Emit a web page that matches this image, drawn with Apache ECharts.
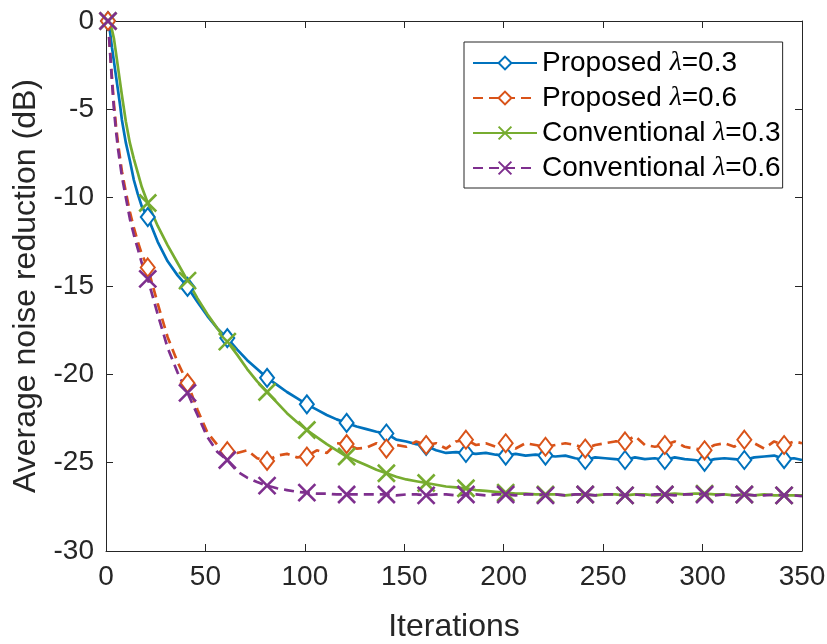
<!DOCTYPE html>
<html>
<head>
<meta charset="utf-8">
<script src="https://cdn.jsdelivr.net/npm/echarts@6/dist/echarts.min.js"></script>
<style>
  html, body { margin: 0; padding: 0; background: #fff; }
  #main { width: 827px; height: 644px; }
</style>
</head>
<body>
<div id="main"></div>
<script>
// iteration index of every sample
var iters = [
  1, 2, 3, 4, 5, 6, 7, 8, 10, 12, 14, 16, 18,
  21, 26, 31, 36, 41, 46, 51, 56, 61, 66, 71, 76, 81, 86, 91, 96,
  101, 106, 111, 116, 121, 126, 131, 136, 141, 146, 151, 156, 161, 166, 171, 176, 181, 186, 191, 196,
  201, 206, 211, 216, 221, 226, 231, 236, 241, 246, 251, 256, 261, 266, 271, 276, 281, 286, 291, 296,
  301, 306, 311, 316, 321, 326, 331, 336, 341, 346,
  350
];
// markers sit every 20 iterations
var markerIters = [1, 21, 41, 61, 81, 101, 121, 141, 161, 181, 201, 221, 241, 261, 281, 301, 321, 341];

var proposed03 = [
  0, -0.6, -1.5, -2.3, -3.1, -3.9, -4.7, -5.6, -6.9, -7.9, -9.0, -9.8, -10.5,
  -11.1, -12.5, -13.6, -14.4, -15.05, -15.9, -16.7, -17.4, -17.95, -18.6, -19.2, -19.7, -20.2, -20.6, -21.0, -21.35,
  -21.7, -22.0, -22.3, -22.55, -22.75, -22.95, -23.1, -23.25, -23.35, -23.7, -23.8, -23.95, -24.05, -24.3, -24.45, -24.4, -24.45, -24.5, -24.45, -24.55,
  -24.6, -24.5, -24.6, -24.55, -24.6, -24.65, -24.6, -24.75, -24.85, -24.7, -24.75, -24.8, -24.85, -24.7, -24.8, -24.75, -24.85, -24.7, -24.8, -24.85,
  -24.95, -24.8, -24.75, -24.8, -24.85, -24.7, -24.65, -24.6, -24.8, -24.75,
  -24.85
];
var proposed06 = [
  0, -1.6, -3.2, -4.7, -5.9, -6.9, -7.7, -8.5, -9.7, -10.8, -11.7, -12.5, -13.2,
  -13.95, -16.0, -17.9, -19.3, -20.5, -22.0, -23.3, -24.0, -24.35, -24.45, -24.3, -24.75, -24.9, -24.6, -24.5, -24.7,
  -24.65, -24.3, -24.45, -23.9, -23.95, -24.2, -24.15, -23.9, -24.2, -24.0, -24.1, -23.8, -24.0, -23.9, -24.2, -23.8, -23.7, -24.0, -23.9, -24.1,
  -23.9, -24.2, -23.9, -24.0, -24.1, -24.0, -23.9, -24.0, -24.2, -24.0, -23.9, -23.8, -23.8, -23.5, -24.0, -24.1, -24.0, -23.8, -24.1, -24.2,
  -24.3, -24.0, -23.9, -24.1, -23.7, -23.9, -24.2, -23.8, -24.0, -23.8,
  -23.9
];
var conventional03 = [
  0, -0.2, -0.5, -1.0, -1.8, -2.6, -3.4, -4.2, -5.7, -6.9, -7.8, -8.6, -9.4,
  -10.3, -11.6, -12.7, -13.7, -14.7, -15.7, -16.6, -17.4, -18.15, -18.9, -19.7, -20.4, -21.0, -21.6, -22.2, -22.7,
  -23.15, -23.55, -23.95, -24.3, -24.65, -24.9, -25.15, -25.4, -25.6, -25.8, -25.95, -26.05, -26.15, -26.25, -26.35, -26.4, -26.45, -26.55, -26.6, -26.65,
  -26.7, -26.75, -26.75, -26.8, -26.8, -26.8, -26.85, -26.8, -26.8, -26.85, -26.8, -26.8, -26.85, -26.8, -26.8, -26.85, -26.8, -26.75, -26.8, -26.75,
  -26.75, -26.8, -26.8, -26.85, -26.8, -26.85, -26.8, -26.85, -26.85, -26.85,
  -26.85
];
var conventional06 = [
  0, -1.7, -3.4, -5.0, -6.2, -7.2, -8.0, -8.8, -10.0, -11.2, -12.1, -12.9, -13.7,
  -14.6, -16.6, -18.5, -19.9, -21.05, -22.3, -23.55, -24.4, -24.85, -25.5, -25.85, -26.1, -26.3, -26.45, -26.55, -26.65,
  -26.7, -26.75, -26.75, -26.8, -26.8, -26.8, -26.8, -26.8, -26.8, -26.85, -26.8, -26.8, -26.85, -26.8, -26.8, -26.85, -26.8, -26.8, -26.85, -26.8,
  -26.8, -26.85, -26.8, -26.8, -26.85, -26.8, -26.85, -26.8, -26.8, -26.85, -26.8, -26.8, -26.85, -26.8, -26.85, -26.8, -26.8, -26.85, -26.8, -26.8,
  -26.8, -26.85, -26.8, -26.85, -26.8, -26.85, -26.85, -26.8, -26.85, -26.85,
  -26.9
];

var seriesNames = ['Proposed λ=0.3', 'Proposed λ=0.6', 'Conventional λ=0.3', 'Conventional λ=0.6'];
var xTicks = [0, 350, 50];
var yTicks = [-30, 0, 5];

var BLUE = '#0072BD', ORANGE = '#D95319', GREEN = '#77AC30', PURPLE = '#7E2F8E';
var AXIS = '#262626';
var CROSS = 'path://M0,0L10,10M0,10L10,0';

function pairs(vals) {
  return iters.map(function (it, i) {
    var d = { value: [it, vals[i]] };
    if (markerIters.indexOf(it) < 0) d.symbol = 'none';
    return d;
  });
}

function makeSeries(name, vals, color, dashed, cross) {
  return {
    name: name,
    type: 'line',
    xAxisIndex: 0,
    yAxisIndex: 0,
    data: pairs(vals),
    showSymbol: true,
    showAllSymbol: true,
    symbol: cross ? CROSS : 'emptyDiamond',
    symbolSize: cross ? 17 : [14, 18],
    lineStyle: { color: color, width: 2.7, type: dashed ? [10, 6] : 'solid' },
    itemStyle: { color: color, borderColor: color, borderWidth: 2.6 },
    emphasis: { disabled: true }
  };
}

var chart = echarts.init(document.getElementById('main'), null, { renderer: 'canvas' });

var baseAxis = {
  axisLine: { show: true, onZero: false, lineStyle: { color: AXIS, width: 1 } },
  axisTick: { show: true, inside: true, length: 7, lineStyle: { color: AXIS, width: 1 } },
  splitLine: { show: false }
};

chart.setOption({
  animation: false,
  backgroundColor: '#fff',
  textStyle: { fontFamily: '"Liberation Sans", Arial, sans-serif' },
  grid: { left: 106, right: 25, top: 21, bottom: 93, outerBoundsMode: 'none' },
  legend: {
    data: seriesNames,
    orient: 'vertical',
    left: 464,
    top: 42,
    padding: [7, 2, 6, 8],
    itemWidth: 64,
    itemHeight: 16,
    itemGap: 7,
    backgroundColor: '#fff',
    borderColor: AXIS,
    borderWidth: 1,
    formatter: function (name) { return name.replace('λ', '{l|λ}'); },
    textStyle: {
      color: '#000', fontSize: 28, lineHeight: 28,
      rich: { l: { fontFamily: '"Liberation Serif", "DejaVu Serif", serif', fontStyle: 'italic', fontSize: 28, lineHeight: 28 } }
    }
  },
  xAxis: [
    Object.assign({}, baseAxis, {
      type: 'value', position: 'bottom',
      min: xTicks[0], max: xTicks[1], interval: xTicks[2],
      name: 'Iterations', nameLocation: 'middle', nameGap: 60,
      nameTextStyle: { fontSize: 32, color: AXIS },
      axisLabel: { fontSize: 28, color: AXIS, margin: 12 }
    }),
    Object.assign({}, baseAxis, {
      type: 'value', position: 'top',
      min: xTicks[0], max: xTicks[1], interval: xTicks[2],
      axisLabel: { show: false }
    })
  ],
  yAxis: [
    Object.assign({}, baseAxis, {
      type: 'value', position: 'left',
      min: yTicks[0], max: yTicks[1], interval: yTicks[2],
      name: 'Average noise reduction (dB)', nameLocation: 'middle', nameGap: 62,
      nameTextStyle: { fontSize: 32, color: AXIS },
      axisLabel: { fontSize: 28, color: AXIS, margin: 12 }
    }),
    Object.assign({}, baseAxis, {
      type: 'value', position: 'right',
      min: yTicks[0], max: yTicks[1], interval: yTicks[2],
      axisLabel: { show: false }
    })
  ],
  series: [
    makeSeries(seriesNames[0], proposed03, BLUE, false, false),
    makeSeries(seriesNames[1], proposed06, ORANGE, true, false),
    makeSeries(seriesNames[2], conventional03, GREEN, false, true),
    makeSeries(seriesNames[3], conventional06, PURPLE, true, true)
  ]
});
</script>
</body>
</html>
